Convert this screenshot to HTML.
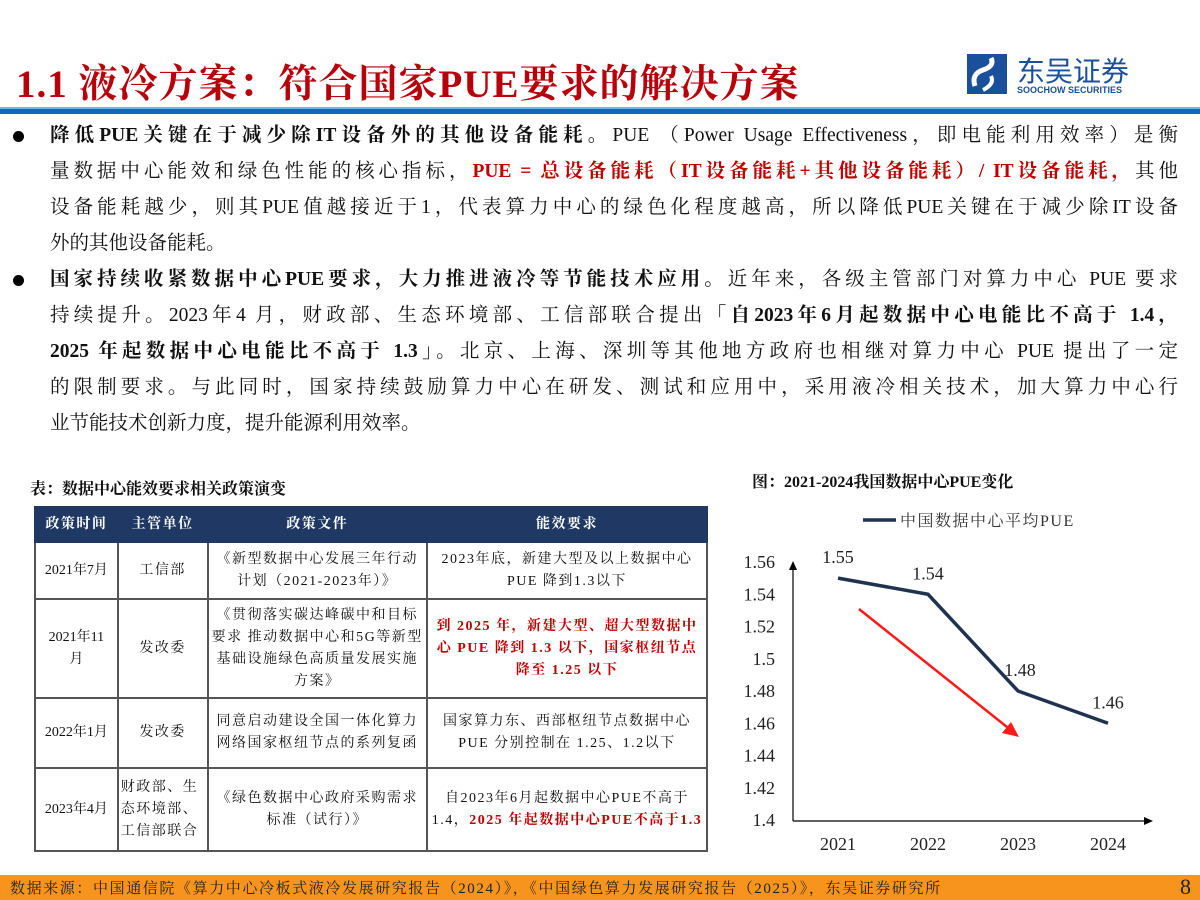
<!DOCTYPE html>
<html><head><meta charset="utf-8">
<style>
*{margin:0;padding:0;box-sizing:border-box}
body{width:1200px;height:900px;background:#fff;position:relative;overflow:hidden;font-family:"Liberation Serif","Noto Serif CJK SC",serif;color:#111}
.abs{position:absolute}
#title{left:16px;top:60px;font-size:39px;font-weight:bold;color:#b8000b;letter-spacing:1px;white-space:nowrap;line-height:50px}
#bar{left:0;top:107px;width:1200px;height:7px;background:#0b6bbd;border-top:2px solid #6fb6ea}
.ln{position:absolute;left:50px;width:1128px;font-size:19.5px;line-height:24px;text-align:justify;text-align-last:justify;white-space:nowrap}
.ln.last{text-align-last:left}
.b{font-weight:bold}
.r{color:#c00000;font-weight:bold}
.dot{position:absolute;left:13px;width:11px;height:11px;border-radius:50%;background:#000}
table{position:absolute;left:34px;top:506px;width:674px;border-collapse:collapse;font-size:14px;line-height:22px;text-align:center;letter-spacing:1.5px}
td,th{border:2px solid #555;padding:0 3px}
th{background:#1f3864;color:#fff;font-weight:bold;height:35px;border-color:#1f3864}
#footer{left:0;top:875px;width:1200px;height:25px;background:#f7941d}
</style></head>
<body>
<div class="abs" id="title">1.1 液冷方案：符合国家PUE要求的解决方案</div>
<div class="abs" style="left:965px;top:52px;width:180px;height:45px">
<svg width="44" height="44" style="position:absolute;left:0;top:0"><rect x="2" y="2" width="40" height="40" fill="#1a4f9c"/><path d="M10 34 Q6 22 18 18 Q30 14 26 6" stroke="#fff" stroke-width="5" fill="none"/><path d="M18 38 Q30 32 26 24" stroke="#fff" stroke-width="4" fill="none"/></svg>
<div style="position:absolute;left:52px;top:-2px;font-family:'Liberation Sans','Noto Sans CJK SC',sans-serif;font-size:28px;color:#1a4f9c">东吴证券</div>
<div style="position:absolute;left:52px;top:33px;font-family:'Liberation Sans',sans-serif;font-size:9px;font-weight:bold;color:#1a4f9c">SOOCHOW SECURITIES</div>
</div>
<div class="abs" id="bar"></div>

<div>
<div class="dot" style="top:131px"></div>
<div class="ln" style="top:124px"><span class="b">降低PUE关键在于减少除IT设备外的其他设备能耗。</span>PUE （Power Usage Effectiveness，即电能利用效率）是衡</div>
<div class="ln" style="top:160px">量数据中心能效和绿色性能的核心指标，<span class="r">PUE = 总设备能耗（IT设备能耗+其他设备能耗）/ IT设备能耗，</span>其他</div>
<div class="ln" style="top:196px">设备能耗越少，则其PUE值越接近于1，代表算力中心的绿色化程度越高，所以降低PUE关键在于减少除IT设备</div>
<div class="ln last" style="top:232px">外的其他设备能耗。</div>
<div class="dot" style="top:275px"></div>
<div class="ln" style="top:268px"><span class="b">国家持续收紧数据中心PUE要求，大力推进液冷等节能技术应用。</span>近年来，各级主管部门对算力中心 PUE 要求</div>
<div class="ln" style="top:304px">持续提升。2023年4 月，财政部、生态环境部、工信部联合提出<span class="b">「自2023年6月起数据中心电能比不高于 1.4，</span></div>
<div class="ln" style="top:340px"><span class="b">2025 年起数据中心电能比不高于 1.3」</span>。北京、上海、深圳等其他地方政府也相继对算力中心 PUE 提出了一定</div>
<div class="ln" style="top:376px">的限制要求。与此同时，国家持续鼓励算力中心在研发、测试和应用中，采用液冷相关技术，加大算力中心行</div>
<div class="ln last" style="top:412px">业节能技术创新力度，提升能源利用效率。</div>
</div>

<div class="abs b" style="left:30px;top:476px;font-size:16px">表：数据中心能效要求相关政策演变</div>
<table>
<colgroup><col style="width:83px"><col style="width:90px"><col style="width:220px"><col style="width:281px"></colgroup>
<tr><th>政策时间</th><th>主管单位</th><th>政策文件</th><th>能效要求</th></tr>
<tr style="height:57px"><td style="letter-spacing:0">2021年7月</td><td>工信部</td><td>《新型数据中心发展三年行动计划（2021-2023年）》</td><td>2023年底，新建大型及以上数据中心<br>PUE 降到1.3以下</td></tr>
<tr style="height:99px"><td style="letter-spacing:0">2021年11<br>月</td><td>发改委</td><td>《贯彻落实碳达峰碳中和目标要求 推动数据中心和5G等新型基础设施绿色高质量发展实施方案》</td><td class="r">到 2025 年，新建大型、超大型数据中心 PUE 降到 1.3 以下，国家枢纽节点降至 1.25 以下</td></tr>
<tr style="height:70px"><td style="letter-spacing:0">2022年1月</td><td>发改委</td><td>同意启动建设全国一体化算力网络国家枢纽节点的系列复函</td><td>国家算力东、西部枢纽节点数据中心<br>PUE 分别控制在 1.25、1.2以下</td></tr>
<tr style="height:83px"><td style="letter-spacing:0">2023年4月</td><td style="text-align:left;padding:0 2px">财政部、生态环境部、工信部联合</td><td>《绿色数据中心政府采购需求标准（试行）》</td><td>自2023年6月起数据中心PUE不高于1.4，<span class="r">2025 年起数据中心PUE不高于1.3</span></td></tr>
</table>

<div class="abs b" style="left:752px;top:469px;font-size:16px">图：2021-2024我国数据中心PUE变化</div>
<svg class="abs" style="left:0;top:0" width="1200" height="900" id="chart"></svg>

<div class="abs" id="footer">
<div style="position:absolute;left:10px;top:2px;font-size:15px;letter-spacing:1.6px;color:#222;white-space:nowrap">数据来源：中国通信院《算力中心冷板式液冷发展研究报告（2024）》，《中国绿色算力发展研究报告（2025）》，东吴证券研究所</div>
<div style="position:absolute;left:1180px;top:-1px;font-size:22px;color:#222">8</div>
</div>

<script>
const years=["2021","2022","2023","2024"];
const pue=[1.55,1.54,1.48,1.46];
const yTicks=[1.4,1.42,1.44,1.46,1.48,1.5,1.52,1.54,1.56];
const yLabels=["1.4","1.42","1.44","1.46","1.48","1.5","1.52","1.54","1.56"];
const valueLabels=["1.55","1.54","1.48","1.46"];
const NS="http://www.w3.org/2000/svg";
const svg=document.getElementById('chart');
const y=v=>820-(v-1.4)/0.16*258;
const x=i=>838+i*90;
function mk(t,a,txt){const e=document.createElementNS(NS,t);for(const k in a)e.setAttribute(k,a[k]);if(txt!=null)e.textContent=txt;svg.appendChild(e);return e;}
const font='"Liberation Serif","Noto Serif CJK SC",serif';
let ax=mk('line',{x1:793,y1:821,x2:793,y2:566,stroke:'#000','stroke-width':1.2});


let ah=mk('polygon',{points:'789,570 793,561 797,570',fill:'#000'});


let axx=mk('line',{x1:793,y1:821,x2:1148,y2:821,stroke:'#000','stroke-width':1.2});


let axh=mk('polygon',{points:'1144,817 1153,821 1144,825',fill:'#000'});


yTicks.forEach((v,i)=>{const t=mk('text',{x:775,y:y(v)+6,'text-anchor':'end','font-size':18,'font-family':font,fill:'#222'},yLabels[i]);

});
years.forEach((yr,i)=>{const t=mk('text',{x:x(i),y:850,'text-anchor':'middle','font-size':18,'font-family':font,fill:'#222'},yr);

});
const pl=mk('polyline',{points:pue.map((v,i)=>x(i)+','+y(v)).join(' '),fill:'none',stroke:'#1f3350','stroke-width':3.5});


pue.forEach((v,i)=>{const t=mk('text',{x:x(i)+(i==2?2:0),y:y(v)-15,'text-anchor':'middle','font-size':18,'font-family':font,fill:'#222'},valueLabels[i]);

});
const ra=mk('line',{x1:859,y1:609,x2:1012,y2:731,stroke:'#ff1a1a','stroke-width':2.5});


const rh=mk('polygon',{points:'1019,737 1002,733 1011,722',fill:'#ff1a1a'});


const lg=mk('line',{x1:863,y1:520,x2:896,y2:520,stroke:'#1f3350','stroke-width':3.5});


const lt=mk('text',{x:900,y:526,'font-size':16,'font-family':font,fill:'#333','letter-spacing':1.5},'中国数据中心平均PUE');


</script>
</body></html>
